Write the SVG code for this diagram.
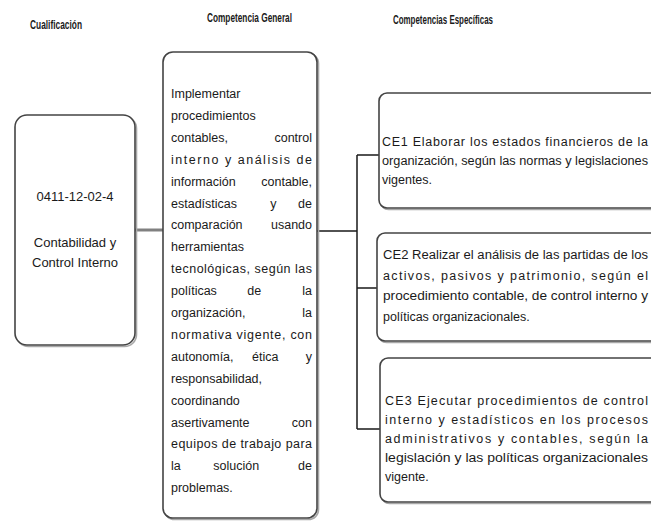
<svg xmlns="http://www.w3.org/2000/svg" width="651" height="521" viewBox="0 0 651 521">
<style>
  .title { font-family: "Liberation Sans", Arial, sans-serif; font-size: 12px; font-weight: bold; fill: #1a1a1a; }
  .t { font-family: "Liberation Sans", Arial, sans-serif; font-size: 12.5px; fill: #1a1a1a; }
  .tl { font-family: "Liberation Sans", Arial, sans-serif; font-size: 13px; fill: #1a1a1a; text-anchor: middle; }
  .box { fill: #ffffff; stroke: #444444; stroke-width: 1.6; }
  .shadow { fill: none; stroke: #a8a8a8; stroke-width: 1.6; }
  .conn { fill: none; stroke: #1a1a1a; stroke-width: 1.5; }
  .conn-g { fill: none; stroke: #808080; stroke-width: 3; }
</style>

<g id="titles">
  <text class="title" x="30" y="28.5" textLength="52" lengthAdjust="spacingAndGlyphs">Cualificación</text>
  <text class="title" x="207" y="21.5" textLength="85" lengthAdjust="spacingAndGlyphs">Competencia General</text>
  <text class="title" x="393" y="23.5" textLength="100" lengthAdjust="spacingAndGlyphs">Competencias Específicas</text>
</g>

<g id="connectors">
  <line class="conn-g" x1="135" y1="230" x2="163" y2="230"/>
  <path class="conn" d="M317,231 H357 M357,155 V429 M357,155 H379 M357,288 H377 M357,429 H380"/>
</g>

<g id="cualificacion">
  <rect class="shadow" x="16.5" y="116.5" width="120" height="230" rx="12"/>
  <rect class="box" x="15" y="115" width="120" height="230" rx="12"/>
  <text class="tl" x="75" y="201">0411-12-02-4</text>
  <text class="tl" x="75" y="247">Contabilidad y</text>
  <text class="tl" x="75" y="267">Control Interno</text>
</g>

<g id="competencia-general">
  <rect class="shadow" x="164.5" y="53.5" width="154" height="466" rx="10"/>
  <rect class="box" x="163" y="52" width="154" height="466" rx="10"/>
  <text class="t" x="171" y="98">Implementar</text>
  <text class="t" x="171" y="119.9">procedimientos</text>
  <text class="t" y="141.8"><tspan x="171">contables,</tspan> <tspan x="312" text-anchor="end">control</tspan></text>
  <text class="t" x="171" y="163.7" textLength="141" lengthAdjust="spacing">interno y análisis de</text>
  <text class="t" y="185.6"><tspan x="171">información</tspan> <tspan x="312" text-anchor="end">contable,</tspan></text>
  <text class="t" y="207.5"><tspan x="171">estadísticas</tspan> <tspan x="275" text-anchor="middle">y</tspan> <tspan x="312" text-anchor="end">de</tspan></text>
  <text class="t" y="229.4"><tspan x="171">comparación</tspan> <tspan x="312" text-anchor="end">usando</tspan></text>
  <text class="t" x="171" y="251.3">herramientas</text>
  <text class="t" x="171" y="273.2" textLength="141" lengthAdjust="spacing">tecnológicas, según las</text>
  <text class="t" y="295.1"><tspan x="171">políticas</tspan> <tspan x="256" text-anchor="middle">de</tspan> <tspan x="312" text-anchor="end">la</tspan></text>
  <text class="t" y="317"><tspan x="171">organización,</tspan> <tspan x="312" text-anchor="end">la</tspan></text>
  <text class="t" x="171" y="338.9" textLength="141" lengthAdjust="spacing">normativa vigente, con</text>
  <text class="t" y="360.8"><tspan x="171">autonomía,</tspan> <tspan x="267" text-anchor="middle">ética</tspan> <tspan x="312" text-anchor="end">y</tspan></text>
  <text class="t" x="171" y="382.7">responsabilidad,</text>
  <text class="t" x="171" y="404.6">coordinando</text>
  <text class="t" y="426.5"><tspan x="171">asertivamente</tspan> <tspan x="312" text-anchor="end">con</tspan></text>
  <text class="t" x="171" y="448.4" textLength="141" lengthAdjust="spacing">equipos de trabajo para</text>
  <text class="t" y="470.3"><tspan x="171">la</tspan> <tspan x="238" text-anchor="middle">solución</tspan> <tspan x="312" text-anchor="end">de</tspan></text>
  <text class="t" x="171" y="492.2">problemas.</text>
</g>

<g id="ce1">
  <rect class="shadow" x="380.5" y="94.5" width="300" height="115" rx="8"/>
  <rect class="box" x="379" y="93" width="300" height="115" rx="8"/>
  <text class="t" x="382" y="146" textLength="266" lengthAdjust="spacing">CE1 Elaborar los estados financieros de la</text>
  <text class="t" x="382" y="165" textLength="266" lengthAdjust="spacingAndGlyphs">organización, según las normas y legislaciones</text>
  <text class="t" x="382" y="184">vigentes.</text>
</g>

<g id="ce2">
  <rect class="shadow" x="378.5" y="234.5" width="300" height="108" rx="8"/>
  <rect class="box" x="377" y="233" width="300" height="108" rx="8"/>
  <text class="t" x="383" y="259" textLength="265" lengthAdjust="spacingAndGlyphs">CE2 Realizar el análisis de las partidas de los</text>
  <text class="t" x="383" y="279.5" textLength="265" lengthAdjust="spacing">activos, pasivos y patrimonio, según el</text>
  <text class="t" x="383" y="300" textLength="265" lengthAdjust="spacingAndGlyphs">procedimiento contable, de control interno y</text>
  <text class="t" x="383" y="320.5">políticas organizacionales.</text>
</g>

<g id="ce3">
  <rect class="shadow" x="381.5" y="359.5" width="300" height="144" rx="8"/>
  <rect class="box" x="380" y="358" width="300" height="144" rx="8"/>
  <text class="t" x="385" y="405" textLength="263" lengthAdjust="spacing">CE3 Ejecutar procedimientos de control</text>
  <text class="t" x="385" y="424" textLength="263" lengthAdjust="spacing">interno y estadísticos en los procesos</text>
  <text class="t" x="385" y="443" textLength="263" lengthAdjust="spacing">administrativos y contables, según la</text>
  <text class="t" x="385" y="462" textLength="263" lengthAdjust="spacingAndGlyphs">legislación y las políticas organizacionales</text>
  <text class="t" x="385" y="481">vigente.</text>
</g>
</svg>
